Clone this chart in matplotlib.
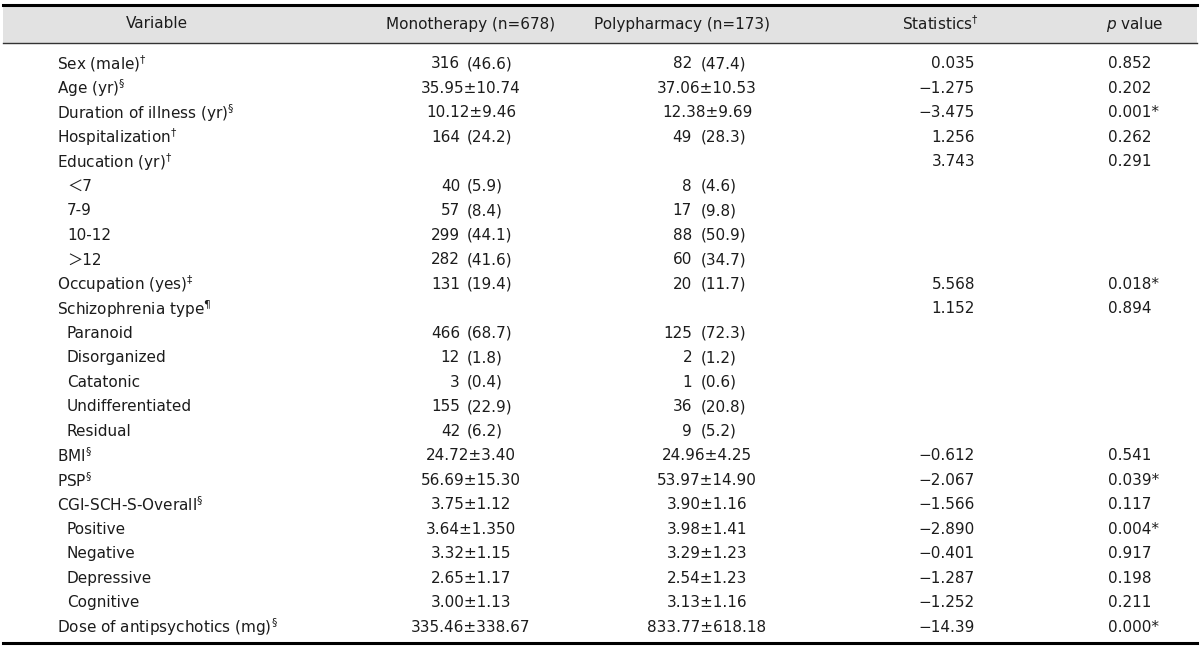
import matplotlib
matplotlib.use("Agg")
import matplotlib.pyplot as plt

plt.rcParams['font.family'] = ['DejaVu Sans', 'Noto Sans CJK KR']
plt.rcParams['mathtext.fontset'] = 'dejavusans'

# table content
headers = ['Variable', 'Monotherapy (n=678)', 'Polypharmacy (n=173)',
           'Statistics$^{\u2020}$', r'$\mathit{p}$ value']

variables = ['Sex (male)', 'Age (yr)', 'Duration of illness (yr)', 'Hospitalization',
             'Education (yr)', '\uff1c7', '7-9', '10-12', '\uff1e12', 'Occupation (yes)',
             'Schizophrenia type', 'Paranoid', 'Disorganized', 'Catatonic',
             'Undifferentiated', 'Residual', 'BMI', 'PSP', 'CGI-SCH-S-Overall',
             'Positive', 'Negative', 'Depressive', 'Cognitive', 'Dose of antipsychotics (mg)']
marks = ['\u2020', '\u00a7', '\u00a7', '\u2020', '\u2020', '', '', '', '', '\u2021',
         '\u00b6', '', '', '', '', '', '\u00a7', '\u00a7', '\u00a7',
         '', '', '', '', '\u00a7']
indent = [0, 0, 0, 0, 0, 1, 1, 1, 1, 0, 0, 1, 1, 1, 1, 1, 0, 0, 0, 1, 1, 1, 1, 0]

mono = ['316 (46.6)', '35.95\u00b110.74', '10.12\u00b19.46', '164 (24.2)', '',
        '40 (5.9)', '57 (8.4)', '299 (44.1)', '282 (41.6)', '131 (19.4)', '',
        '466 (68.7)', '12 (1.8)', '3 (0.4)', '155 (22.9)', '42 (6.2)',
        '24.72\u00b13.40', '56.69\u00b115.30', '3.75\u00b11.12', '3.64\u00b11.350',
        '3.32\u00b11.15', '2.65\u00b11.17', '3.00\u00b11.13', '335.46\u00b1338.67']
poly = ['82 (47.4)', '37.06\u00b110.53', '12.38\u00b19.69', '49 (28.3)', '',
        '8 (4.6)', '17 (9.8)', '88 (50.9)', '60 (34.7)', '20 (11.7)', '',
        '125 (72.3)', '2 (1.2)', '1 (0.6)', '36 (20.8)', '9 (5.2)',
        '24.96\u00b14.25', '53.97\u00b114.90', '3.90\u00b11.16', '3.98\u00b11.41',
        '3.29\u00b11.23', '2.54\u00b11.23', '3.13\u00b11.16', '833.77\u00b1618.18']
stats = ['0.035', '\u22121.275', '\u22123.475', '1.256', '3.743', '', '', '', '', '5.568',
         '1.152', '', '', '', '', '', '\u22120.612', '\u22122.067', '\u22121.566',
         '\u22122.890', '\u22120.401', '\u22121.287', '\u22121.252', '\u221214.39']
pvals = ['0.852', '0.202', '0.001*', '0.262', '0.291', '', '', '', '', '0.018*',
         '0.894', '', '', '', '', '', '0.541', '0.039*', '0.117', '0.004*',
         '0.917', '0.198', '0.211', '0.000*']

W, H = 1200, 648
fig = plt.figure(figsize=(12, 6.48), dpi=100)
ax = fig.add_axes([0, 0, 1, 1])
ax.set_xlim(0, W)
ax.set_ylim(H, 0)
ax.axis('off')

txt = '#1c1c1c'
fs = 11

# header band and rules
ax.axhspan(5, 43, xmin=3 / W, xmax=1197 / W, color='#e2e2e2', lw=0)
ax.plot([3, 1197], [5, 5], color='black', lw=2.2)
ax.plot([3, 1197], [43, 43], color='#333333', lw=1.0)
ax.plot([3, 1197], [643, 643], color='black', lw=2.2)

hx = [157, 471, 682, 940, 1135]
for x, h in zip(hx, headers):
    ax.text(x, 24, h, ha='center', va='center', fontsize=fs, color=txt)


def cell_group(xc, xr, xl, y, s):
    # "n (pct)" split on the paren, "mean±sd" centred
    if not s:
        return
    if '(' in s:
        n, pct = s.split(' ', 1)
        ax.text(xr, y, n, ha='right', va='center', fontsize=fs, color=txt)
        ax.text(xl, y, pct, ha='left', va='center', fontsize=fs, color=txt)
    else:
        ax.text(xc, y, s, ha='center', va='center', fontsize=fs, color=txt)


y0, step = 64, 24.48
for i in range(len(variables)):
    y = y0 + i * step
    label = variables[i]
    if marks[i]:
        label = label + '$^{' + marks[i] + '}$'
    ax.text(67 if indent[i] else 57, y, label, ha='left', va='center',
            fontsize=fs, color=txt)
    cell_group(471, 460, 467, y, mono[i])
    cell_group(707, 692, 701, y, poly[i])
    if stats[i]:
        ax.text(975, y, stats[i], ha='right', va='center', fontsize=fs, color=txt)
    if pvals[i]:
        ax.text(1108, y, pvals[i], ha='left', va='center', fontsize=fs, color=txt)

fig.savefig('out.png', dpi=100)
